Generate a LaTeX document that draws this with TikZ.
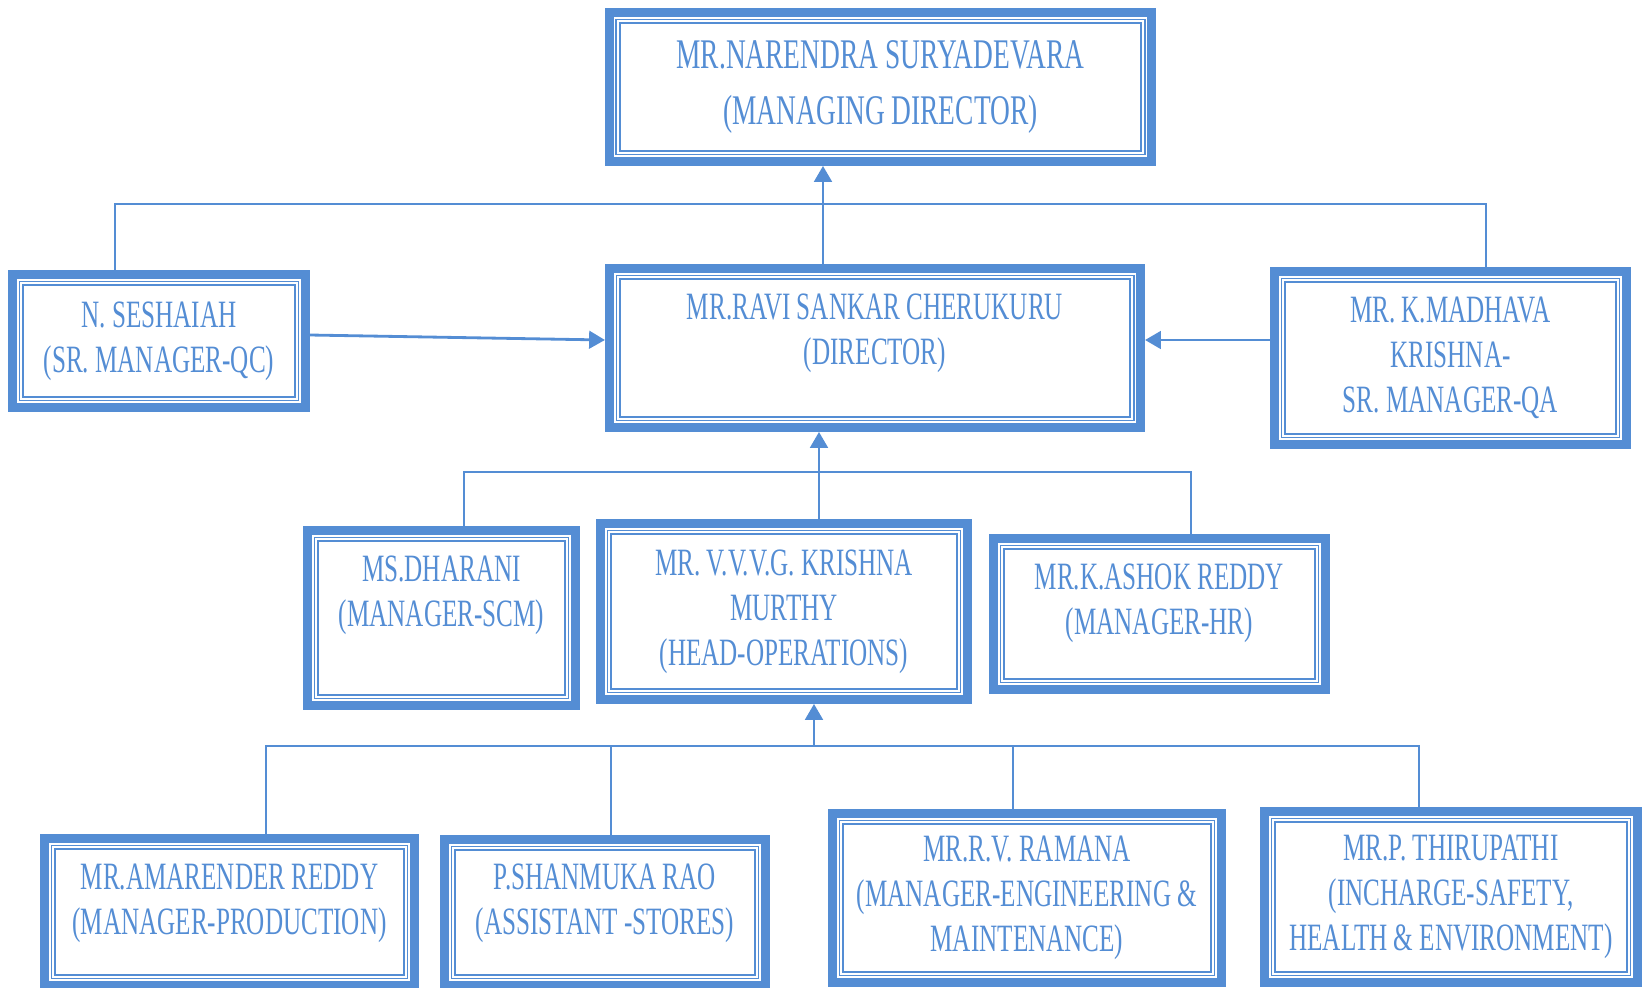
\documentclass[tikz,border=0pt]{standalone}
\usepackage{fontspec}
\setmainfont{Liberation Serif}[FakeStretch=0.65]
\usepackage{tikz}
\usetikzlibrary{arrows.meta, calc, positioning}
\definecolor{chartblue}{RGB}{84,141,212}
\newcommand\chartfont{\fontsize{11}{12.8}\selectfont}
\newcommand\topfont{\fontsize{12}{15.9}\selectfont}
\tikzset{
    person/.style={
        rectangle,
        draw=chartblue,
        line width=2.5pt,
        inner sep=0pt,
        path picture={\draw[chartblue, line width=.45pt, double=white, double distance=.6pt]
            ([shift={(2.5pt,2.5pt)}]path picture bounding box.south west) rectangle
            ([shift={(-2.5pt,-2.5pt)}]path picture bounding box.north east);},
    },
    name text/.style={
        align=center,
        text=chartblue,
        font=\chartfont,
    },
    link/.style={draw=chartblue, line width=.6pt},
    arrow/.style={link, line width=.8pt, -{Triangle[width=5pt,length=4.5pt]}},
}

\begin{document}
\begin{tikzpicture}[x=0.01cm, y=-0.01cm]
  \useasboundingbox (0,0) rectangle (1644,987);

  % managing director and director
  \node [person, minimum width=5.42cm, minimum height=1.49cm,
         label={[name text, font=\topfont]center:{MR.NARENDRA SURYADEVARA\\(MANAGING DIRECTOR)}}] (md) at (880.5,87) {};
  \node [person, minimum width=5.31cm, minimum height=1.59cm,
         label={[name text, yshift=0.145cm]center:{MR.RAVI SANKAR CHERUKURU\\(DIRECTOR)}}] (dir) at (875,348) {};
  \node [person, minimum width=2.93cm, minimum height=1.33cm,
         label={[name text]center:{N. SESHAIAH\\(SR. MANAGER-QC)}}] (qc) at (159,341) {};
  \node [person, minimum width=3.52cm, minimum height=1.73cm,
         label={[name text]center:{MR. K.MADHAVA\\KRISHNA-\\SR. MANAGER-QA}}] (qa) at (1450.5,358) {};

  % middle row
  \node [person, minimum width=2.68cm, minimum height=1.75cm,
         label={[name text, yshift=0.23cm]center:{MS.DHARANI\\(MANAGER-SCM)}}] (scm) at (441.5,618) {};
  \node [person, minimum width=3.67cm, minimum height=1.76cm,
         label={[name text]center:{MR. V.V.V.G. KRISHNA\\MURTHY\\(HEAD-OPERATIONS)}}] (ops) at (784,611.5) {};
  \node [person, minimum width=3.32cm, minimum height=1.51cm,
         label={[name text, yshift=0.11cm]center:{MR.K.ASHOK REDDY\\(MANAGER-HR)}}] (hr) at (1159.5,614) {};

  % bottom row
  \node [person, minimum width=3.70cm, minimum height=1.47cm,
         label={[name text, yshift=0.09cm]center:{MR.AMARENDER REDDY\\(MANAGER-PRODUCTION)}}] (prod) at (229.5,912) {};
  \node [person, minimum width=3.21cm, minimum height=1.46cm,
         label={[name text, yshift=0.09cm]center:{P.SHANMUKA RAO\\(ASSISTANT -STORES)}}] (stores) at (605,912.5) {};
  \node [person, minimum width=3.89cm, minimum height=1.69cm,
         label={[name text]center:{MR.R.V. RAMANA\\(MANAGER-ENGINEERING \&\\MAINTENANCE)}}] (eng) at (1027,898) {};
  \node [person, minimum width=3.73cm, minimum height=1.71cm,
         label={[name text]center:{MR.P. THIRUPATHI\\(INCHARGE-SAFETY,\\HEALTH \& ENVIRONMENT)}}] (she) at (1451,897) {};

  \coordinate (topbus) at (823,204);
  \coordinate (midbus) at (819,472);
  \coordinate (lowbus) at (814,746);

  % top level
  \draw [link] ($(qc.north)+(-44,0)$) |- (topbus) -| ($(qa.north)+(35.5,0)$);
  \draw [arrow] ($(dir.north)+(-52,0)$) -- ($(md.south)+(-57.5,0)$);
  \draw [arrow] ($(qc.east)+(0,-6)$) -- ($(dir.west)+(0,-8)$);
  \draw [arrow] ($(qa.west)+(0,-18)$) -- ($(dir.east)+(0,-8)$);

  % middle level
  \draw [link] ($(scm.north)+(22.5,0)$) |- (midbus) -| ($(hr.north)+(31.5,0)$);
  \draw [arrow] ($(ops.north)+(35,0)$) -- ($(dir.south)+(-56,0)$);

  % bottom level
  \draw [link] ($(prod.north)+(36.5,0)$) |- (lowbus) -| ($(she.north)+(-32,0)$);
  \draw [link] ($(stores.north)+(6,0)$) |- (lowbus);
  \draw [link] ($(eng.north)+(-14,0)$) |- (lowbus);
  \draw [arrow] (lowbus) -- ($(ops.south)+(30,0)$);
\end{tikzpicture}
\end{document}
